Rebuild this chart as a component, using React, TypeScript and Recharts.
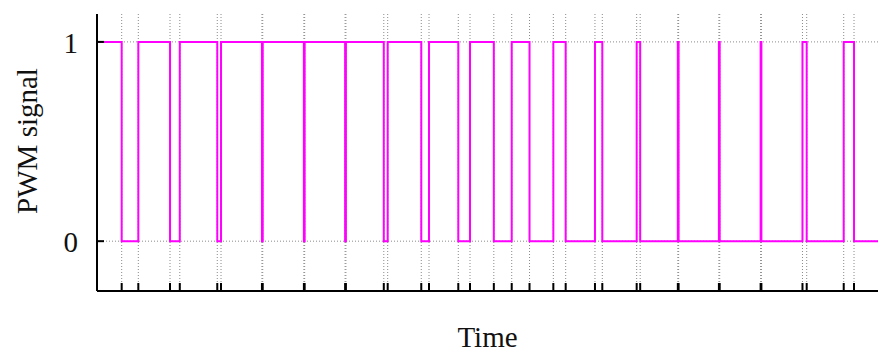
import React from 'react';
import { LineChart, Line, XAxis, YAxis, ReferenceLine } from 'recharts';

// Switching instants (time, arbitrary units 0..100) and PWM level after each instant
const times: number[] = [
  0, 3.16, 5.29, 9.35, 10.6, 15.4, 15.88, 21.12, 21.22, 26.49, 26.59, 31.77, 31.87,
  36.72, 37.22, 41.52, 42.51, 46.26, 47.76, 50.81, 53.1, 55.38, 58.43, 60.01, 63.76,
  64.7, 69.1, 69.55, 74.37, 74.47, 79.63, 79.73, 84.97, 85.07, 90.33, 90.87, 95.61,
  96.93, 100,
];
const levels: number[] = [
  1, 0, 1, 0, 1, 0, 1, 0, 1, 0, 1, 0, 1,
  0, 1, 0, 1, 0, 1, 0, 1, 0, 1, 0, 1,
  0, 1, 0, 1, 0, 1, 0, 1, 0, 1, 0, 1,
  0, 0,
];
const xTicks: number[] = times.slice(1, times.length - 1);
const yTicks: number[] = [0, 1];
const xLabel = 'Time';
const yLabel = 'PWM signal';

const data = times.map((t, i) => ({ t, v: levels[i] }));

const FONT = '"Liberation Serif", "Times New Roman", serif';

const XTick = (props: any) => {
  const { x, y } = props;
  return <line x1={x} x2={x} y1={y} y2={y - 8} stroke="#000" strokeWidth={2} />;
};

const YTick = (props: any) => {
  const { x, y, payload } = props;
  return (
    <g>
      <line x1={x} x2={x + 7} y1={y} y2={y} stroke="#000" strokeWidth={2} />
      <text
        x={x - 19}
        y={y + 1}
        textAnchor="end"
        dominantBaseline="central"
        fontFamily={FONT}
        fontSize={29}
        fill="#111"
      >
        {payload.value}
      </text>
    </g>
  );
};

export default function App() {
  return (
    <div style={{ position: 'absolute', left: 0, top: 0, background: '#fff' }}>
      <LineChart
        width={878}
        height={352}
        data={data}
        margin={{ top: 14, right: 0, bottom: 0, left: 0 }}
      >
        <XAxis
          dataKey="t"
          type="number"
          domain={[0, 100]}
          ticks={xTicks}
          interval={0}
          allowDataOverflow
          height={61}
          tickSize={0}
          tickMargin={0}
          tickLine={false}
          tick={<XTick />}
          axisLine={{ stroke: '#000', strokeWidth: 2 }}
          label={{
            content: (p: any) => {
              const vb = p.viewBox || { x: 97, y: 291, width: 781, height: 61 };
              return (
                <text
                  x={vb.x + vb.width / 2}
                  y={vb.y + 56}
                  textAnchor="middle"
                  fontFamily={FONT}
                  fontSize={29}
                  fill="#111"
                >
                  {xLabel}
                </text>
              );
            },
          }}
        />
        <YAxis
          type="number"
          domain={[-0.25, 1.14]}
          ticks={yTicks}
          interval={0}
          allowDataOverflow
          width={97}
          tickSize={0}
          tickMargin={0}
          tickLine={false}
          tick={<YTick />}
          axisLine={{ stroke: '#000', strokeWidth: 2 }}
          label={{
            content: (p: any) => {
              const vb = p.viewBox || { x: 0, y: 14, width: 97, height: 277 };
              const cx = vb.x + 27;
              const cy = vb.y + 127;
              return (
                <text
                  x={cx}
                  y={cy}
                  transform={`rotate(-90 ${cx} ${cy})`}
                  textAnchor="middle"
                  dominantBaseline="central"
                  fontFamily={FONT}
                  fontSize={29}
                  fill="#111"
                >
                  {yLabel}
                </text>
              );
            },
          }}
        />
        {xTicks.map((t, i) => (
          <ReferenceLine
            key={`gx${i}`}
            x={t}
            stroke="#8a8a8a"
            strokeDasharray="1 2"
            strokeWidth={1}
            ifOverflow="visible"
          />
        ))}
        {yTicks.map((v, i) => (
          <ReferenceLine
            key={`gy${i}`}
            y={v}
            stroke="#8a8a8a"
            strokeDasharray="1 2"
            strokeWidth={1}
          />
        ))}
        <Line
          type="stepAfter"
          dataKey="v"
          stroke="#ff00ff"
          strokeWidth={2}
          dot={false}
          activeDot={false}
          isAnimationActive={false}
        />
      </LineChart>
    </div>
  );
}
